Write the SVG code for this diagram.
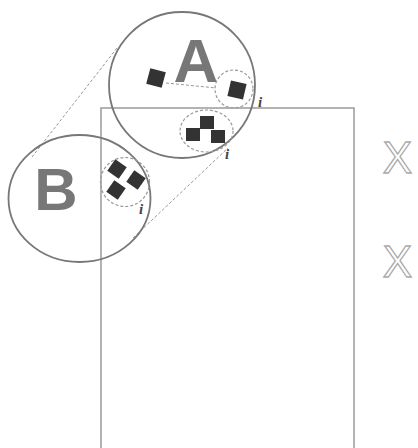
<svg xmlns="http://www.w3.org/2000/svg" width="418" height="448" viewBox="0 0 418 448">
<style>
.frame{fill:none;stroke:#9a9a9a;stroke-width:1.5}
.big{fill:none;stroke:#777;stroke-width:1.8}
.dash{fill:none;stroke:#999;stroke-width:1.2;stroke-dasharray:3 2}
.conn{fill:none;stroke:#999;stroke-width:1;stroke-dasharray:3 2}
.sq{fill:#333}
.letter{font-family:"Liberation Sans",Arial,sans-serif;font-weight:bold;fill:#777}
.lbl{font-family:"Liberation Serif","Times New Roman",serif;font-weight:bold;font-style:italic;font-size:15px;fill:#444}
.x{font-family:"Liberation Sans",Arial,sans-serif;font-size:44px;fill:#fff;stroke:#aaa;stroke-width:1.3}
</style>
<rect id="frame" class="frame" x="101" y="108" width="253" height="360"/>
<g id="connectors">
<line class="conn" x1="32" y1="157" x2="117" y2="48"/>
<line class="conn" x1="133" y1="238" x2="228" y2="148"/>
<line class="conn" x1="166" y1="83" x2="216" y2="88"/>
</g>
<g id="A">
<circle class="big" cx="182" cy="85" r="73"/>
<text class="letter" x="196" y="82" font-size="62" text-anchor="middle">A</text>
<rect class="sq" x="-8" y="-8" width="16" height="16" transform="translate(156 78) rotate(15)"/>
</g>
<g id="A-i">
<circle class="dash" cx="234" cy="89" r="19"/>
<rect class="sq" x="-8" y="-8" width="16" height="16" transform="translate(237 90) rotate(13)"/>
<text class="lbl" x="258" y="107">i</text>
</g>
<g id="group-i">
<ellipse class="dash" cx="206.5" cy="131" rx="26.5" ry="21"/>
<rect class="sq" x="200" y="116" width="14" height="13"/>
<rect class="sq" x="186" y="128" width="14" height="13"/>
<rect class="sq" x="211" y="130" width="14" height="13"/>
<text class="lbl" x="225" y="159">i</text>
</g>
<g id="B">
<ellipse class="big" cx="79.5" cy="198.5" rx="71" ry="63.5"/>
<text class="letter" x="56" y="210" font-size="60" text-anchor="middle">B</text>
</g>
<g id="B-i">
<circle class="dash" cx="125" cy="182" r="24.5"/>
<rect class="sq" x="-7" y="-7" width="14" height="14" transform="translate(117 169) rotate(35)"/>
<rect class="sq" x="-7" y="-7" width="14" height="14" transform="translate(136 180) rotate(35)"/>
<rect class="sq" x="-7" y="-7" width="14" height="14" transform="translate(116 190) rotate(35)"/>
<text class="lbl" x="139" y="214">i</text>
</g>
<g id="x1"><text class="x" x="397.5" y="173" text-anchor="middle">X</text></g>
<g id="x2"><text class="x" x="397.5" y="277" text-anchor="middle">X</text></g>
</svg>
